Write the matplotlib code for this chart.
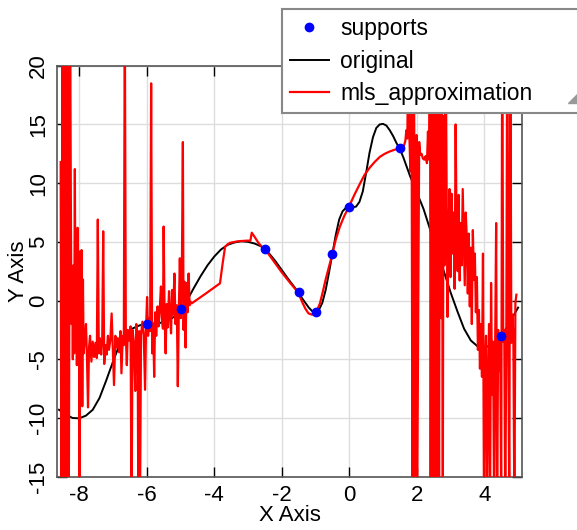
import matplotlib
matplotlib.use("Agg")
import matplotlib.pyplot as plt
from matplotlib.patches import Polygon

plt.rcParams['font.family'] = ['Liberation Sans', 'DejaVu Sans']
plt.rcParams['axes.unicode_minus'] = False

# support points
sup_x = [-6, -5, -2.5, -1.5, -1, -0.5, 0, 1.5, 4.5]
sup_y = [-2.0, -0.75, 4.4, 0.7, -1.0, 4.0, 8.0, 13.0, -3.0]

# original function
orig_x = [-8.6, -8.4, -8.2, -8.0, -7.8, -7.6, -7.4, -7.2, -7.0, -6.8, -6.6, -6.4,
          -6.2, -6.0, -5.8, -5.6, -5.4, -5.2, -5.0, -4.8, -4.6, -4.4, -4.2, -4.0,
          -3.8, -3.6, -3.4, -3.2, -3.0, -2.8, -2.6, -2.4, -2.2, -2.0, -1.8, -1.6,
          -1.4, -1.2, -1.1, -1.0, -0.9, -0.8, -0.7, -0.6, -0.5, -0.4, -0.3, -0.2,
          -0.1, 0.0, 0.1, 0.2, 0.3, 0.4, 0.5, 0.6, 0.7, 0.8, 0.9, 1.0, 1.1, 1.2,
          1.3, 1.4, 1.5, 1.6, 1.8, 2.0, 2.2, 2.4, 2.6, 2.8, 3.0, 3.2, 3.4, 3.6,
          3.8, 4.0, 4.2, 4.4, 4.6, 4.8, 5.0]
orig_y = [-9.3, -9.7, -10.0, -10.03, -9.8, -9.3, -8.3, -6.8, -5.2, -3.7, -2.8, -2.35,
          -2.1, -2.0, -1.95, -1.9, -1.75, -1.4, -0.85, 0.05, 1.1, 2.1, 3.0, 3.75,
          4.35, 4.75, 4.95, 5.05, 5.0, 4.85, 4.6, 4.1, 3.4, 2.6, 1.8, 1.05,
          0.2, -0.6, -0.9, -1.0, -0.8, -0.2, 0.9, 2.4, 4.0, 5.6, 6.9, 7.6,
          7.9, 8.0, 7.95, 8.0, 8.4, 9.3, 10.9, 12.6, 13.9, 14.7, 15.0, 15.05, 14.9, 14.5,
          14.0, 13.4, 12.9, 12.2, 10.6, 9.2, 7.8, 6.0, 4.2, 2.5, 0.7, -0.9, -2.4, -3.4,
          -3.9, -4.0, -3.8, -3.3, -2.6, -1.6, -0.6]

# mls approximation (noisy)
mls_x = [-8.55, -8.53, -8.51, -8.49, -8.47, -8.45, -8.43, -8.41, -8.39, -8.37, -8.35,
         -8.33, -8.31, -8.29, -8.27, -8.25, -8.23, -8.21, -8.19, -8.17, -8.15, -8.13,
         -8.11, -8.09, -8.07, -8.05, -8.03, -8.01, -7.99, -7.97, -7.95, -7.93, -7.91,
         -7.89, -7.87,
         -7.84, -7.80, -7.77, -7.74, -7.71, -7.68, -7.64, -7.60, -7.56, -7.52, -7.48,
         -7.45, -7.42, -7.39, -7.35, -7.32, -7.29, -7.26, -7.22, -7.19, -7.15, -7.12,
         -7.08, -7.04, -7.00, -6.97, -6.93, -6.89, -6.86, -6.82, -6.78, -6.75, -6.71,
         -6.68, -6.65, -6.62, -6.59, -6.56, -6.52, -6.48, -6.45, -6.42, -6.38, -6.34,
         -6.31, -6.27, -6.25, -6.22, -6.20, -6.17, -6.13, -6.09, -6.05, -6.02, -5.99,
         -5.96, -5.93, -5.90, -5.87, -5.84, -5.81, -5.78, -5.75, -5.72, -5.68, -5.65,
         -5.62, -5.58, -5.55, -5.52, -5.50, -5.47, -5.44, -5.41, -5.38, -5.34, -5.31,
         -5.28, -5.25, -5.22, -5.18, -5.15, -5.11, -5.08, -5.05, -5.02, -4.99, -4.96,
         -4.93, -4.91, -4.88, -4.85, -4.82, -4.79, -4.76, -4.73,
         -4.70, -4.67, -4.25, -3.83, -3.76, -3.68, -3.60, -3.53, -3.30, -3.04, -2.93,
         -2.89, -2.80, -2.70, -2.60, -2.50, -2.25, -2.00, -1.75, -1.51, -1.40, -1.30,
         -1.21, -1.11, -1.02, -0.95, -0.87, -0.78, -0.70, -0.60, -0.50, -0.40, -0.28,
         -0.15, -0.01, 0.15, 0.32, 0.45, 0.60, 0.75, 0.91, 1.05, 1.20, 1.35, 1.48,
         1.55, 1.62, 1.66, 1.69, 1.72, 1.75, 1.78, 1.81, 1.84, 1.87, 1.90, 1.93,
         1.96, 1.99, 2.01, 2.04, 2.07, 2.10, 2.14, 2.18, 2.22, 2.26, 2.30, 2.33,
         2.36, 2.39, 2.41, 2.44, 2.46, 2.48, 2.50, 2.52, 2.54, 2.56, 2.58, 2.60,
         2.62, 2.64, 2.66, 2.68, 2.70, 2.72, 2.74, 2.77, 2.79, 2.82, 2.85, 2.88,
         2.91, 2.94, 2.97, 3.00, 3.03, 3.06, 3.09, 3.12, 3.15, 3.18, 3.21, 3.24,
         3.27, 3.30, 3.33, 3.36, 3.39, 3.42, 3.45, 3.48, 3.51, 3.54, 3.57, 3.60,
         3.63, 3.66, 3.69, 3.72, 3.75, 3.78, 3.81, 3.84, 3.87, 3.90, 3.93, 3.96,
         3.99, 4.02, 4.05, 4.08, 4.11, 4.14, 4.17, 4.20, 4.23, 4.26, 4.29, 4.32,
         4.35, 4.38, 4.41, 4.44, 4.47, 4.50, 4.53, 4.56, 4.59, 4.62, 4.65, 4.68,
         4.71, 4.74, 4.77, 4.80, 4.83, 4.86, 4.89, 4.92, 4.95]
mls_y = [11.8, -18, 9.5, 25, -18, 9.2, 0.5, 25, -18, 9.4, 25,
         -3, -18, 2.5, 25, 9.4, -2, 2.8, -5, 3.0, -4.5, 11.2,
         -3, 4.5, -5.5, 6.2, -3, 4.2, -18, 2.5, -4, 4.3, -9,
         1.8, -4.5,
         -3.5, -2.0, -5.0, -9.1, -4.0, -3.0, -5.2, -3.5, -4.8, -3.6, -4.9,
         6.9, -4.5, -3.2, -4.6, -3.5, 5.9, -5.4, -3.8, -4.6, -3.0, -4.2,
         -3.4, -1.1, -4.5, -7.2, -3.0, -4.0, -3.2, -4.4, -2.6, -6.2, -3.0,
         -3.8, 25, -3.0, -5.5, -2.5, -3.4, -2.2, -18, -2.5, -3.6, -7.7,
         -2.0, -3.0, -18, -2.6, -18, -3.0, -1.8, -2.8, -7.6, -2.2, 0.3,
         -3.0, -1.5, -2.6, 18.5, -4.5, -2.0, -6.5, -1.0, -3.0, -0.5, -2.2,
         -1.0, 1.2, -1.5, -2.4, 6.3, -1.6, -4.5, -0.3, -2.3, 0.8, -1.5,
         -2.8, 0.9, -1.2, 2.3, -2.0, -0.4, -7.3, -1.0, 3.6, -1.5, 2.5,
         13.5, -2.5, 1.6, -4.0, 1.5, -1.0, 2.3, -0.4,
         -0.1, -0.24, 0.6, 1.47, 3.0, 4.58, 4.8, 4.92, 5.05, 5.1, 5.1,
         5.78, 5.4, 4.95, 4.6, 4.39, 3.4, 2.4, 1.5, 0.67, -0.1, -0.7,
         -1.09, -1.2, -1.1, -0.8, -0.24, 0.8, 1.8, 2.9, 3.99, 5.2, 6.29,
         7.2, 7.99, 9.0, 9.98, 10.7, 11.3, 11.8, 12.25, 12.5, 12.7, 12.85, 12.95,
         13.0, 13.2, 13.6, 14.5, 13.8, 25, 14.0, 11.0, 25, -18, 25, 12.0,
         -18, 14.1, -18, -1.6, 13.5, 12.4, 12.5, 12.1, 12.0, 12.3, 11.7, 14.4,
         12.0, 25, -18, 25, -18, 15.0, 25, -18, 3.0, 25, -18, -2.1,
         25, 6.5, -18, 25, 13.9, -1.5, 25, -18, 15.7, 3.0, 25, 11.0,
         -1.4, 6.0, 9.5, 2.0, 9.1, 4.0, 7.5, 1.0, 15.0, 5.5, 2.5, 9.0,
         1.7, 6.6, 3.0, 9.5, 5.2, 1.3, 7.5, 5.4, 0.6, 5.7, -0.5, 4.5,
         -2.0, 6.0, 1.75, 4.0, -1.0, 2.0, -4.2, -0.8, -5.8, -2.0, -6.5, 4.0,
         -18, -5.35, -3.0, -18, -6.5, -2.0, -18, 1.5, -8.0, -3.5, -18, -4.0,
         6.6, -18, -2.5, -6.0, -3.0, -18, 25, -3.5, -2.5, -18, -3.8, 25,
         -2.5, -18, 25, -3.6, -1.2, -3.0, -18, -0.2, 0.5]

x_ticks = [-8, -6, -4, -2, 0, 2, 4]
y_ticks = [-15, -10, -5, 0, 5, 10, 15, 20]

fig = plt.figure(figsize=(5.77, 5.30), dpi=100)
ax = fig.add_axes([0.0993, 0.1006, 0.8062, 0.7754])

ax.plot(orig_x, orig_y, color="black", lw=1.4, label="original", zorder=3)
ax.plot(mls_x, mls_y, color="red", lw=1.6, label="mls_approximation", zorder=4)
ax.plot(sup_x, sup_y, "o", color="blue", ms=6, label="supports", zorder=5)

ax.set_xlim(-8.65, 5.13)
ax.set_ylim(-15, 20)
ax.set_xticks(x_ticks)
ax.set_yticks(y_ticks)
ax.grid(True, color="#dddddd", lw=1)
ax.set_axisbelow(True)
ax.tick_params(direction="in", length=7, width=1, top=True, right=True,
               labelsize=16, pad=6)
for lab in ax.get_yticklabels():
    lab.set_rotation(90)
    lab.set_va("center")
for sp in ax.spines.values():
    sp.set_color("#555555")
    sp.set_linewidth(1.2)

ax.set_xlabel("X Axis", fontsize=16, labelpad=-1)
ax.set_ylabel("Y Axis", fontsize=16, labelpad=-1)

h, l = ax.get_legend_handles_labels()
order = [2, 0, 1]
leg = fig.legend([h[i] for i in order], [l[i] for i in order],
                 loc="upper left", bbox_to_anchor=(0.4887, 0.5, 0.52, 0.483),
                 mode="expand", fontsize=16.5, fancybox=False, framealpha=1,
                 edgecolor="#888888", borderpad=0.35, labelspacing=0.42,
                 handlelength=1.7, handletextpad=0.5, borderaxespad=0)
leg.get_frame().set_linewidth(1.5)

tri = Polygon([[568 / 577, 1 - 103 / 530], [1.0, 1 - 103 / 530], [1.0, 1 - 94 / 530]],
              closed=True, transform=fig.transFigure, color="#999999", zorder=10)
fig.patches.append(tri)

fig.savefig("out.png", dpi=100)
